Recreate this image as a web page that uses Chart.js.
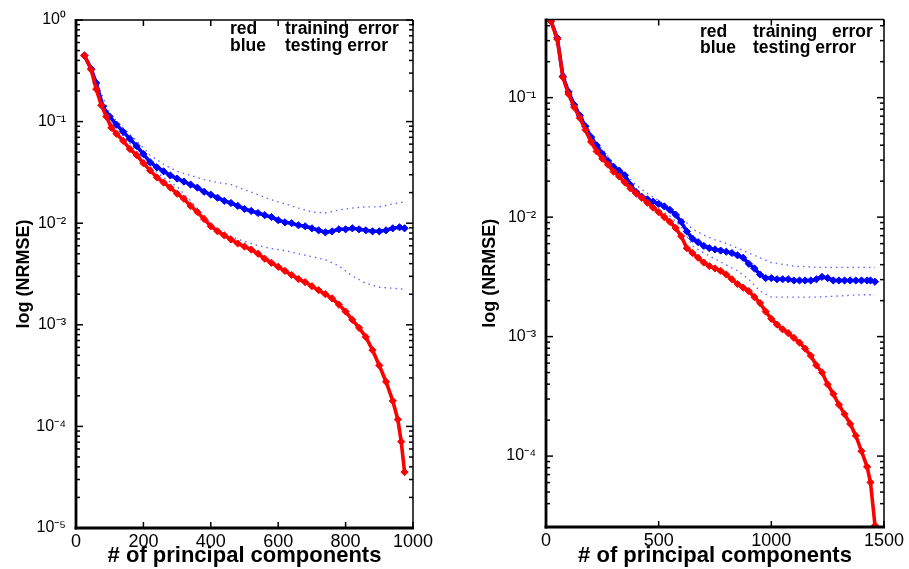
<!DOCTYPE html>
<html>
<head>
<meta charset="utf-8">
<script src="https://cdn.jsdelivr.net/npm/chart.js@4.4.1/dist/chart.umd.min.js"></script>
<style>
  html, body { margin: 0; padding: 0; background: #fff; }
  #wrap { position: relative; width: 909px; height: 569px; }
  canvas { position: absolute; top: 0; }
  #left-chart { left: 0; }
  #right-chart { left: 460px; }
</style>
</head>
<body>
<div id="wrap">
  <canvas id="left-chart" width="440" height="569"></canvas>
  <canvas id="right-chart" width="449" height="569"></canvas>
</div>
<script>
// ---- left panel ----
const leftTrainN = [25, 45, 60, 75, 90, 105, 120, 140, 160, 180, 200, 220, 240, 260, 280, 300, 320, 340, 360, 380,
    400, 420, 440, 460, 480, 500, 520, 540, 560, 580, 600, 620, 640, 660, 680, 700, 720, 740, 760, 780,
    800, 820, 840, 860, 880, 900, 920, 940, 955, 965, 975];
const leftTrainErr = [0.447, 0.324, 0.209, 0.145, 0.112, 0.0871, 0.0759, 0.0646, 0.0537, 0.0468, 0.0389, 0.0331,
    0.0282, 0.0251, 0.0224, 0.0195, 0.0174, 0.0148, 0.0129, 0.0110, 0.00933, 0.00832, 0.00759, 0.00692, 0.00631,
    0.00589, 0.00550, 0.00501, 0.00447, 0.00407, 0.00372, 0.00339, 0.00309, 0.00282, 0.00263, 0.00240, 0.00219,
    0.00200, 0.00182, 0.00158, 0.00135, 0.00112, 0.000933, 0.000759, 0.000562, 0.000398, 0.000275, 0.000178,
    0.000117, 0.0000708, 0.0000355];

const leftTestN = [25, 45, 60, 80, 100, 120, 140, 160, 180, 200, 220, 240, 260, 280, 300, 320, 340, 360, 380, 400,
    420, 440, 460, 480, 500, 520, 540, 560, 580, 600, 620, 640, 660, 680, 700, 720, 740, 760, 780, 800,
    820, 840, 860, 880, 900, 920, 940, 960, 975];
const leftTestErr = [0.447, 0.331, 0.240, 0.141, 0.112, 0.0933, 0.0794, 0.0676, 0.0575, 0.0479, 0.0398, 0.0355,
    0.0324, 0.0295, 0.0275, 0.0257, 0.0240, 0.0224, 0.0204, 0.0191, 0.0178, 0.0166, 0.0158, 0.0148, 0.0138,
    0.0132, 0.0126, 0.0120, 0.0115, 0.0107, 0.0102, 0.0100, 0.00955, 0.00933, 0.00891, 0.00851, 0.00813,
    0.00832, 0.00871, 0.00871, 0.00891, 0.00871, 0.00851, 0.00832, 0.00832, 0.00851, 0.00891, 0.00912, 0.00891];

const leftBandN = [25, 60, 100, 140, 180, 220, 260, 300, 340, 380, 420, 460, 500, 540, 580, 620, 660, 700, 740,
    780, 820, 860, 900, 940, 975];
const leftUpper = [0.457, 0.251, 0.120, 0.0871, 0.0646, 0.0468, 0.0380, 0.0324, 0.0295, 0.0269, 0.0251, 0.0240,
    0.0214, 0.0191, 0.0170, 0.0155, 0.0141, 0.0129, 0.0126, 0.0135, 0.0141, 0.0145, 0.0145, 0.0155, 0.0162];
const leftLower = [0.437, 0.219, 0.102, 0.0724, 0.0513, 0.0355, 0.0282, 0.0229, 0.0166, 0.0117, 0.00871, 0.00741,
    0.00661, 0.00603, 0.00562, 0.00537, 0.00501, 0.00468, 0.00437, 0.00380, 0.00302, 0.00257, 0.00234,
    0.00229, 0.00224];

// ---- right panel ----
const rightN = [22, 50, 75, 100, 125, 150, 175, 200, 225, 250, 275, 300, 325, 350, 375, 400, 425, 450, 475, 500,
    525, 550, 575, 600, 625, 650, 675, 700, 725, 750, 775, 800, 825, 850, 875, 900, 925, 950, 975, 1000,
    1025, 1050, 1075, 1100, 1125, 1150, 1175, 1200, 1225, 1250, 1275, 1300, 1325, 1350, 1375, 1400, 1425,
    1440, 1460];
const rightTrainErr = [0.437, 0.309, 0.148, 0.107, 0.0832, 0.0676, 0.0537, 0.0427, 0.0355, 0.0309, 0.0275, 0.0240,
    0.0219, 0.0195, 0.0174, 0.0158, 0.0145, 0.0132, 0.0120, 0.0110, 0.0100, 0.00912, 0.00813, 0.00692, 0.00550,
    0.00501, 0.00457, 0.00417, 0.00389, 0.00372, 0.00355, 0.00331, 0.00302, 0.00275, 0.00257, 0.00240, 0.00214,
    0.00191, 0.00162, 0.00141, 0.00126, 0.00115, 0.00107, 0.000977, 0.000891, 0.000794, 0.000692, 0.000575,
    0.000501, 0.000398, 0.000331, 0.000269, 0.000224, 0.000186, 0.000148, 0.000110, 0.0000813, 0.0000603,
    0.0000263];
const rightTestErr = [0.437, 0.316, 0.151, 0.112, 0.0871, 0.0708, 0.0575, 0.0468, 0.0398, 0.0339, 0.0295, 0.0263,
    0.0245, 0.0224, 0.0186, 0.0162, 0.0148, 0.0141, 0.0135, 0.0129, 0.0123, 0.0115, 0.0105, 0.00912, 0.00759,
    0.00661, 0.00617, 0.00575, 0.00550, 0.00537, 0.00525, 0.00513, 0.00501, 0.00479, 0.00457, 0.00407, 0.00372,
    0.00331, 0.00309, 0.00309, 0.00302, 0.00302, 0.00302, 0.00295, 0.00295, 0.00295, 0.00295, 0.00302, 0.00316,
    0.00309, 0.00295, 0.00295, 0.00295, 0.00295, 0.00295, 0.00295, 0.00295, 0.00295, 0.00288];

const rightBandN = [22, 100, 200, 300, 400, 450, 500, 550, 600, 650, 700, 750, 800, 850, 900, 950, 1000, 1100,
    1200, 1300, 1400, 1460];
const rightUpper = [0.447, 0.115, 0.0490, 0.0282, 0.0186, 0.0158, 0.0138, 0.0117, 0.0100, 0.00794, 0.00708,
    0.00646, 0.00603, 0.00550, 0.00501, 0.00457, 0.00417, 0.00389, 0.00380, 0.00380, 0.00380, 0.00380];
const rightLower = [0.427, 0.105, 0.0417, 0.0234, 0.0148, 0.0132, 0.0117, 0.0102, 0.00832, 0.00575, 0.00501,
    0.00447, 0.00398, 0.00355, 0.00302, 0.00240, 0.00214, 0.00214, 0.00214, 0.00219, 0.00224, 0.00224];

const legendRows = [['red', 'training', 'error'], ['blue', 'testing error', '']];

const RED = '#ff0000';
const BLUE = '#0000ff';
const FONT = "'Liberation Sans', Arial, Helvetica, sans-serif";
const SUP = { '0': '\u2070', '1': '\u00b9', '2': '\u00b2', '3': '\u00b3', '4': '\u2074', '5': '\u2075', '-': '\u207b' };

function toPoints(xs, ys) {
    return xs.map((x, i) => ({ x: x, y: ys[i] }));
}

function powerLabel(value) {
    const e = Math.log10(value);
    if (Math.abs(e - Math.round(e)) > 1e-6) return '';
    return '10' + String(Math.round(e)).split('').map(c => SUP[c]).join('');
}

// box round the plot with inward tick marks, like the original figure
const framePlugin = {
    id: 'frame',
    afterDatasetsDraw(chart) {
        const { ctx, chartArea: a, scales } = chart;
        const x = scales.x, y = scales.y;
        const line = (x1, y1, x2, y2) => {
            ctx.beginPath();
            ctx.moveTo(x1, y1);
            ctx.lineTo(x2, y2);
            ctx.stroke();
        };
        ctx.save();
        ctx.strokeStyle = '#000';
        ctx.lineWidth = 1.5;
        x.ticks.forEach(t => {
            const px = x.getPixelForValue(t.value);
            line(px, a.bottom, px, a.bottom - 6);
            line(px, a.top, px, a.top + 6);
        });
        y.ticks.forEach(t => {
            const exp = Math.floor(Math.log10(t.value) + 1e-9);
            const m = t.value / Math.pow(10, exp);
            if (Math.abs(m - Math.round(m)) > 1e-6) return;
            const len = Math.round(m) === 1 ? 7 : 4;
            const py = y.getPixelForValue(t.value);
            line(a.left, py, a.left + len, py);
            line(a.right, py, a.right - len, py);
        });
        line(a.left, a.top, a.right, a.top);
        line(a.right, a.top, a.right, a.bottom);
        ctx.lineWidth = 2.8;
        line(a.left, a.top - 1, a.left, a.bottom + 1.4);
        line(a.left - 1.4, a.bottom, a.right + 1, a.bottom);
        ctx.restore();
    }
};

const textLegendPlugin = {
    id: 'textLegend',
    afterDraw(chart, args, opts) {
        const ctx = chart.ctx;
        ctx.save();
        ctx.fillStyle = '#000';
        ctx.font = 'bold 17.5px ' + FONT;
        ctx.textBaseline = 'middle';
        legendRows.forEach((row, r) => {
            row.forEach((word, c) => {
                if (word) ctx.fillText(word, opts.cols[c], opts.rows[r]);
            });
        });
        ctx.restore();
    }
};

function makeChart(id, cfg) {
    const ctx = document.getElementById(id).getContext('2d');
    return new Chart(ctx, {
        type: 'line',
        data: {
            datasets: [
                {
                    label: 'training error',
                    data: toPoints(cfg.trainN, cfg.train),
                    borderColor: RED, backgroundColor: RED,
                    borderWidth: 3.6, pointStyle: 'rectRot', pointRadius: 3.6, pointBorderWidth: 1
                },
                {
                    label: 'testing error',
                    data: toPoints(cfg.testN, cfg.test),
                    borderColor: BLUE, backgroundColor: BLUE,
                    borderWidth: 3.6, pointStyle: 'rectRot', pointRadius: 3.6, pointBorderWidth: 1
                },
                {
                    label: 'upper',
                    data: toPoints(cfg.bandN, cfg.upper),
                    borderColor: 'rgba(40,40,255,0.75)', borderWidth: 1.3, borderDash: [1.5, 4],
                    pointRadius: 0
                },
                {
                    label: 'lower',
                    data: toPoints(cfg.bandN, cfg.lower),
                    borderColor: 'rgba(40,40,255,0.75)', borderWidth: 1.3, borderDash: [1.5, 4],
                    pointRadius: 0
                }
            ]
        },
        options: {
            responsive: false,
            animation: false,
            layout: { autoPadding: false, padding: cfg.padding },
            elements: { line: { tension: 0 } },
            plugins: {
                legend: { display: false },
                tooltip: { enabled: false },
                textLegend: cfg.legend
            },
            scales: {
                x: {
                    type: 'linear',
                    min: 0, max: cfg.xMax,
                    grid: { display: false, drawTicks: false },
                    border: { display: false },
                    ticks: {
                        stepSize: cfg.xStep, padding: 3, color: '#000',
                        font: { family: FONT, size: 18 },
                        callback: v => String(v)
                    },
                    title: {
                        display: true, text: '# of principal components', color: '#000',
                        font: { family: FONT, size: 22, weight: 'bold' },
                        padding: { top: 0, bottom: 0 }
                    },
                    afterFit: s => { s.height = cfg.xHeight; }
                },
                y: {
                    type: 'logarithmic',
                    min: cfg.yMin, max: cfg.yMax,
                    grid: { display: false, drawTicks: false },
                    border: { display: false },
                    ticks: {
                        autoSkip: false, padding: 10, color: '#000',
                        font: { family: FONT, size: 16 },
                        callback: v => powerLabel(v)
                    },
                    title: {
                        display: true, text: 'log (NRMSE)', color: '#000',
                        font: { family: FONT, size: 18, weight: 'bold' },
                        padding: { top: cfg.yTitlePad, bottom: 0 }
                    },
                    afterFit: s => { s.width = cfg.yWidth; }
                }
            }
        },
        plugins: [framePlugin, textLegendPlugin]
    });
}

makeChart('left-chart', {
    trainN: leftTrainN, train: leftTrainErr,
    testN: leftTestN, test: leftTestErr,
    bandN: leftBandN, upper: leftUpper, lower: leftLower,
    xMax: 1000, xStep: 200, yMin: 1e-5, yMax: 1,
    padding: { top: 20, right: 27, bottom: 0, left: 0 },
    xHeight: 41, yWidth: 76, yTitlePad: 13,
    legend: { cols: [230, 285, 358], rows: [29, 46] }
});

makeChart('right-chart', {
    trainN: rightN, train: rightTrainErr,
    testN: rightN, test: rightTestErr,
    bandN: rightBandN, upper: rightUpper, lower: rightLower,
    xMax: 1500, xStep: 500, yMin: 2.55e-5, yMax: 0.45,
    padding: { top: 19, right: 25, bottom: 0, left: 0 },
    xHeight: 42, yWidth: 86, yTitlePad: 19,
    legend: { cols: [240, 293, 372], rows: [32, 48] }
});
</script>
</body>
</html>
